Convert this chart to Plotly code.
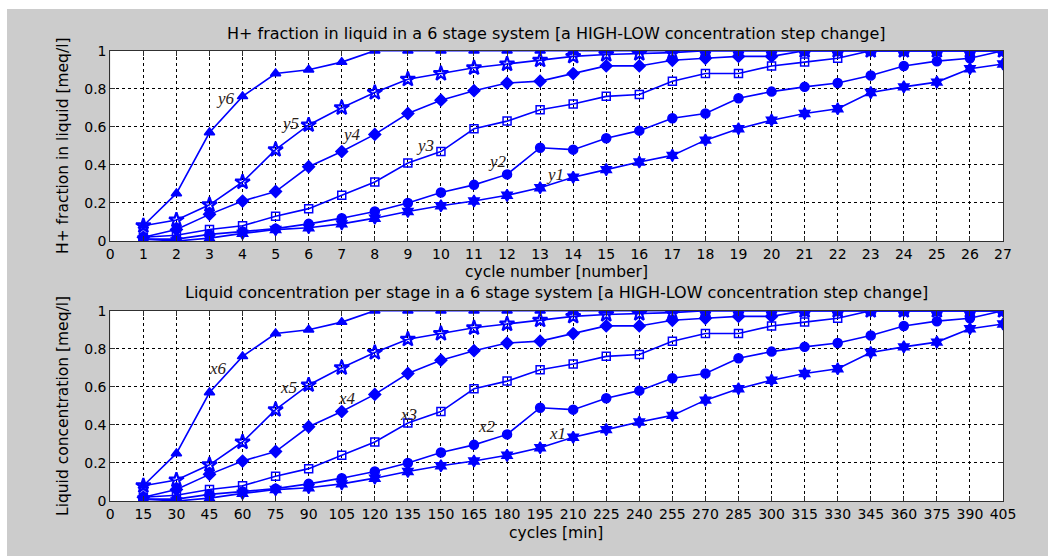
import plotly.graph_objects as go

# cycle index and elapsed time (15 min per cycle)
cycles = list(range(1, 28))
minutes = [15 * c for c in cycles]

# stage profiles (fraction of H+ in liquid, meq/l)
y6 = [0.08, 0.25, 0.57, 0.76, 0.88, 0.90, 0.94, 1.0, 1.0, 1.0, 1.0, 1.0, 1.0, 1.0,
      1.0, 1.0, 1.0, 1.0, 1.0, 1.0, 1.0, 1.0, 1.0, 1.0, 1.0, 1.0, 1.0]
y5 = [0.08, 0.11, 0.19, 0.31, 0.48, 0.61, 0.70, 0.78, 0.85, 0.88, 0.91, 0.93, 0.95, 0.97,
      0.98, 0.985, 0.99, 1.0, 1.0, 1.0, 1.0, 1.0, 1.0, 1.0, 1.0, 1.0, 1.0]
y4 = [0.02, 0.06, 0.14, 0.21, 0.26, 0.39, 0.47, 0.56, 0.67, 0.74, 0.79, 0.83, 0.84, 0.88,
      0.92, 0.92, 0.95, 0.96, 0.97, 0.97, 1.0, 1.0, 1.0, 1.0, 1.0, 1.0, 1.0]
y3 = [0.02, 0.03, 0.06, 0.08, 0.13, 0.17, 0.24, 0.31, 0.41, 0.47, 0.59, 0.63, 0.69, 0.72,
      0.76, 0.77, 0.84, 0.88, 0.88, 0.92, 0.94, 0.96, 1.0, 1.0, 1.0, 1.0, 1.0]
y2 = [0.01, 0.01, 0.035, 0.05, 0.065, 0.09, 0.12, 0.155, 0.20, 0.255, 0.295, 0.35, 0.49, 0.48,
      0.54, 0.58, 0.645, 0.67, 0.75, 0.785, 0.81, 0.83, 0.87, 0.92, 0.945, 0.96, 1.0]
y1 = [0.01, 0.0, 0.015, 0.04, 0.06, 0.07, 0.09, 0.12, 0.155, 0.185, 0.21, 0.24, 0.28, 0.335,
      0.375, 0.415, 0.45, 0.53, 0.59, 0.635, 0.67, 0.695, 0.78, 0.81, 0.835, 0.905, 0.93]

series = [y1, y2, y3, y4, y5, y6]
names = ["1", "2", "3", "4", "5", "6"]
symbols = ["hexagram", "circle", "square-open", "diamond", "star-open", "triangle-up"]
sizes = [9, 9, 8, 9, 11, 9]

# label anchors (cycle number / minutes, value) for the stage tags
tag_pos_top = [(13.45, 0.35), (11.7, 0.42), (9.52, 0.50), (7.31, 0.56), (5.44, 0.615), (3.47, 0.75)]
tag_pos_bot = [(202.7, 0.357), (171, 0.389), (135.2, 0.457), (107.4, 0.541), (80.7, 0.599), (48.9, 0.694)]

BLUE = "#0000ff"
fig = go.Figure()

for vals, nm, sym, sz in zip(series, names, symbols, sizes):
    lw = 2.2 if sym == "star-open" else 1.5
    mk = dict(symbol=sym, size=sz, color=BLUE, line=dict(color=BLUE, width=lw))
    fig.add_trace(go.Scatter(x=cycles, y=vals, mode="lines+markers", name="y" + nm,
                             line=dict(color=BLUE, width=1.6), marker=mk,
                             xaxis="x", yaxis="y", showlegend=False))
    fig.add_trace(go.Scatter(x=minutes, y=vals, mode="lines+markers", name="x" + nm,
                             line=dict(color=BLUE, width=1.6), marker=mk,
                             xaxis="x2", yaxis="y2", showlegend=False))

annotations = []
tag_font = dict(family="Liberation Serif", size=17, color="#2a2018")
for nm, (tx, ty) in zip(names, tag_pos_top):
    annotations.append(dict(x=tx, y=ty, xref="x", yref="y", text="<i>y%s</i>" % nm,
                            showarrow=False, font=tag_font, xanchor="center", yanchor="middle"))
for nm, (tx, ty) in zip(names, tag_pos_bot):
    annotations.append(dict(x=tx, y=ty, xref="x2", yref="y2", text="<i>x%s</i>" % nm,
                            showarrow=False, font=tag_font, xanchor="center", yanchor="middle"))

W, H = 1060, 559
SANS = "DejaVu Sans"
txt_font = dict(family=SANS, size=16, color="black")
lbl_font = dict(family=SANS, size=15.5, color="black")


def px(x):
    return x / W


def py(y):
    return 1 - y / H


def paper_text(x, y, text, angle=0, font=txt_font):
    return dict(x=px(x), y=py(y), xref="paper", yref="paper", showarrow=False,
                xanchor="center", yanchor="middle", font=font, text=text,
                textangle=angle)


annotations += [
    paper_text(556, 33, "H+ fraction in liquid in a 6 stage system [a HIGH-LOW concentration step change]"),
    paper_text(556, 292, "Liquid concentration per stage in a 6 stage system [a HIGH-LOW concentration step change]"),
    paper_text(556, 272, "cycle number [number]", font=lbl_font),
    paper_text(556, 533, "cycles [min]", font=lbl_font),
    paper_text(63, 146, "H+ fraction in liquid [meq/l]", -90, lbl_font),
    paper_text(63, 406, "Liquid concentration [meq/l]", -90, lbl_font),
]

axis_common = dict(showgrid=True, gridcolor="black", griddash="dot", gridwidth=1,
                   showline=True, linecolor="#303030", linewidth=1, mirror="ticks",
                   ticks="inside", ticklen=5, tickcolor="#303030", zeroline=False,
                   automargin=False,
                   tickfont=dict(family=SANS, size=14, color="black"))

xdom = [px(110.3), px(1003)]
fig.update_layout(
    width=W, height=H, autosize=False,
    margin=dict(l=0, r=0, t=0, b=0, pad=0, autoexpand=False),
    paper_bgcolor="#cccccc",
    plot_bgcolor="white",
    xaxis=dict(domain=xdom, range=[0, 27], tickmode="array", tickvals=list(range(0, 28)),
               anchor="y", **axis_common),
    yaxis=dict(domain=[py(241), py(50.7)], range=[0, 1], tickvals=[0, 0.2, 0.4, 0.6, 0.8, 1],
               anchor="x", **axis_common),
    xaxis2=dict(domain=xdom, range=[0, 405], tickmode="array", tickvals=list(range(0, 406, 15)),
                anchor="y2", **axis_common),
    yaxis2=dict(domain=[py(501), py(310.7)], range=[0, 1], tickvals=[0, 0.2, 0.4, 0.6, 0.8, 1],
                anchor="x2", **axis_common),
    annotations=annotations,
    shapes=[
        # white border around the grey figure panel
        dict(type="rect", xref="paper", yref="paper", x0=0, x1=1, y0=py(9), y1=1,
             fillcolor="white", line=dict(width=0), layer="above"),
        dict(type="rect", xref="paper", yref="paper", x0=0, x1=1, y0=0, y1=py(556),
             fillcolor="white", line=dict(width=0), layer="above"),
        dict(type="rect", xref="paper", yref="paper", x0=0, x1=px(7), y0=0, y1=1,
             fillcolor="white", line=dict(width=0), layer="above"),
        dict(type="rect", xref="paper", yref="paper", x0=px(1048), x1=1, y0=0, y1=1,
             fillcolor="white", line=dict(width=0), layer="above"),
    ],
)

fig.write_html("out.html", config={"responsive": False},
               post_script="document.body.style.margin='0';")
